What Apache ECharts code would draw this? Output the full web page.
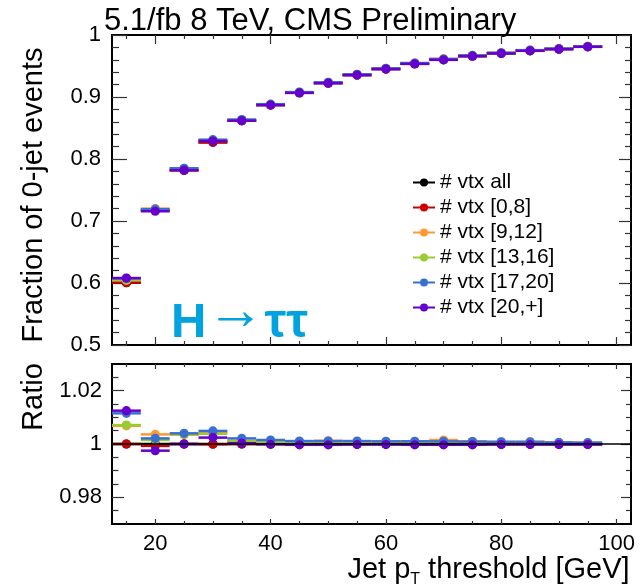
<!DOCTYPE html>
<html>
<head>
<meta charset="utf-8">
<script src="https://cdn.jsdelivr.net/npm/echarts@6/dist/echarts.min.js"></script>
<style>
  html, body { margin: 0; padding: 0; background: #ffffff; }
  #chart { width: 644px; height: 586px; }
</style>
</head>
<body>
<div id="chart"></div>
<script>
// Jet pT thresholds (bin centres, GeV); each bin is 5 GeV wide
const ptThresholds = [15, 20, 25, 30, 35, 40, 45, 50, 55, 60, 65, 70, 75, 80, 85, 90, 95];
const binHalfWidth = 2.5;

const seriesNames = ['# vtx all', '# vtx [0,8]', '# vtx [9,12]', '# vtx [13,16]', '# vtx [17,20]', '# vtx [20,+]'];
const seriesColors = ['#000000', '#cc0000', '#ff9933', '#99cc33', '#3a6fd2', '#6600cc'];

// Fraction of 0-jet events per pile-up category
const fracAll    = [0.6005, 0.7175, 0.7820, 0.8270, 0.8618, 0.8871, 0.9069, 0.9226, 0.9355, 0.9452, 0.9537, 0.9602, 0.9661, 0.9705, 0.9747, 0.9774, 0.9811];
const fracVtx0_8   = [0.6007, 0.7170, 0.7820, 0.8269, 0.8618, 0.8871, 0.9069, 0.9226, 0.9355, 0.9452, 0.9537, 0.9602, 0.9661, 0.9705, 0.9747, 0.9774, 0.9811];
const fracVtx9_12  = [0.6046, 0.7201, 0.7847, 0.8305, 0.8628, 0.8880, 0.9076, 0.9237, 0.9362, 0.9460, 0.9547, 0.9616, 0.9671, 0.9713, 0.9755, 0.9779, 0.9816];
const fracVtx13_16 = [0.6048, 0.7186, 0.7848, 0.8301, 0.8627, 0.8878, 0.9074, 0.9233, 0.9361, 0.9457, 0.9543, 0.9610, 0.9667, 0.9710, 0.9752, 0.9778, 0.9814];
const fracVtx17_20 = [0.6074, 0.7190, 0.7851, 0.8311, 0.8636, 0.8884, 0.9079, 0.9236, 0.9365, 0.9461, 0.9547, 0.9612, 0.9670, 0.9713, 0.9755, 0.9780, 0.9816];
const fracVtx20up  = [0.6080, 0.7157, 0.7820, 0.8290, 0.8618, 0.8870, 0.9066, 0.9223, 0.9353, 0.9450, 0.9534, 0.9599, 0.9658, 0.9703, 0.9745, 0.9772, 0.9809];

// Ratio of each category to the inclusive sample
const ratioAll     = [1, 1, 1, 1, 1, 1, 1, 1, 1, 1, 1, 1, 1, 1, 1, 1, 1];
const ratioVtx0_8   = [1.0000, 0.9993, 1.0000, 0.9999, 1.0000, 1.0000, 1.0000, 1.0000, 1.0000, 1.0000, 1.0000, 1.0000, 1.0000, 1.0000, 1.0000, 1.0000, 1.0000];
const ratioVtx9_12  = [1.0068, 1.0036, 1.0035, 1.0042, 1.0012, 1.0010, 1.0008, 1.0012, 1.0008, 1.0008, 1.0010, 1.0015, 1.0010, 1.0008, 1.0008, 1.0005, 1.0005];
const ratioVtx13_16 = [1.0071, 1.0015, 1.0036, 1.0038, 1.0010, 1.0008, 1.0006, 1.0008, 1.0006, 1.0005, 1.0006, 1.0008, 1.0006, 1.0005, 1.0005, 1.0004, 1.0003];
const ratioVtx17_20 = [1.0115, 1.0021, 1.0040, 1.0049, 1.0021, 1.0015, 1.0011, 1.0011, 1.0011, 1.0010, 1.0010, 1.0010, 1.0009, 1.0008, 1.0008, 1.0006, 1.0005];
const ratioVtx20up  = [1.0125, 0.9975, 1.0000, 1.0024, 1.0003, 0.9999, 0.9997, 0.9997, 0.9998, 0.9998, 0.9997, 0.9997, 0.9997, 0.9998, 0.9998, 0.9998, 0.9998];

const fracSets  = [fracAll, fracVtx0_8, fracVtx9_12, fracVtx13_16, fracVtx17_20, fracVtx20up];
const ratioSets = [ratioAll, ratioVtx0_8, ratioVtx9_12, ratioVtx13_16, ratioVtx17_20, ratioVtx20up];
const ratioReference = 1;

// Axis ticks and labels
const xRange = [12.5, 102.5];
const xMajorTicks = [20, 40, 60, 80, 100];
const xMinorTicks = [15, 25, 30, 35, 45, 50, 55, 65, 70, 75, 85, 90, 95];
const fracRange = [0.5, 1];
const fracStep = 0.1;
const ratioRange = [0.97, 1.03];
const ratioMajorTicks = [0.98, 1, 1.02];
const ratioMinorTicks = [0.975, 0.985, 0.99, 0.995, 1.005, 1.01, 1.015, 1.025];

const FONT = "'Liberation Sans', Arial, Helvetica, sans-serif";
const TICK_COLOR = '#333333';
const FRAME = { color: '#000000', width: 2 };

function xAxisDef(grid, position, values, length, withLabels, extra) {
  return Object.assign({
    type: 'value', gridIndex: grid, position: position,
    min: xRange[0], max: xRange[1],
    axisLine: { show: true, onZero: false, lineStyle: FRAME },
    axisTick: { show: true, inside: true, length: length, customValues: values,
                lineStyle: { color: TICK_COLOR, width: 1.2 } },
    axisLabel: { show: withLabels, customValues: values, margin: 9,
                 color: '#000', fontSize: 22, fontFamily: FONT },
    splitLine: { show: false }
  }, extra || {});
}

function ratioAxisDef(position, values, length, withLabels, extra) {
  return Object.assign({
    type: 'value', gridIndex: 1, position: position,
    min: ratioRange[0], max: ratioRange[1],
    axisLine: { show: true, onZero: false, lineStyle: FRAME },
    axisTick: { show: true, inside: true, length: length, customValues: values,
                lineStyle: { color: TICK_COLOR, width: 1.2 } },
    axisLabel: { show: withLabels, customValues: values, margin: 10,
                 color: '#000', fontSize: 22, fontFamily: FONT },
    splitLine: { show: false }
  }, extra || {});
}

function fracAxisDef(position, tickLen, minorLen, withLabels, extra) {
  return Object.assign({
    type: 'value', gridIndex: 0, position: position,
    min: fracRange[0], max: fracRange[1], interval: fracStep,
    axisLine: { show: true, onZero: false, lineStyle: FRAME },
    axisTick: { show: true, inside: true, length: tickLen,
                lineStyle: { color: TICK_COLOR, width: 1.2 } },
    minorTick: { show: true, splitNumber: 5, length: minorLen,
                 lineStyle: { color: TICK_COLOR, width: 1.2 } },
    axisLabel: { show: withLabels, margin: 11, color: '#000', fontSize: 22, fontFamily: FONT },
    splitLine: { show: false }, minorSplitLine: { show: false }
  }, extra || {});
}

// Horizontal bin bar with a filled marker at the bin centre
function binMarker(params, api) {
  const x = api.value(0), y = api.value(1);
  const c = api.coord([x, y]);
  const l = api.coord([x - binHalfWidth, y]);
  const r = api.coord([x + binHalfWidth, y]);
  const color = api.visual('color');
  return {
    type: 'group',
    children: [
      { type: 'line', shape: { x1: l[0], y1: l[1], x2: r[0], y2: r[1] },
        style: { stroke: color, lineWidth: 2.5 } },
      { type: 'circle', shape: { cx: c[0], cy: c[1], r: 4.6 },
        style: { fill: color } }
    ]
  };
}

// Axis index layout:
// xAxis 0-3 -> upper panel (bottom major/minor, top major/minor), 4-7 -> ratio panel
// yAxis 0-1 -> upper panel (left, right), 2-5 -> ratio panel (left major/minor, right major/minor)
const series = [];
seriesNames.forEach((name, i) => {
  series.push({
    type: 'custom', name: name, xAxisIndex: 0, yAxisIndex: 0,
    itemStyle: { color: seriesColors[i] },
    renderItem: binMarker,
    data: ptThresholds.map((pt, k) => [pt, fracSets[i][k]])
  });
});
seriesNames.forEach((name, i) => {
  series.push({
    type: 'custom', name: name, xAxisIndex: 4, yAxisIndex: 2,
    itemStyle: { color: seriesColors[i] },
    renderItem: binMarker,
    data: ptThresholds.map((pt, k) => [pt, ratioSets[i][k]])
  });
});
series.push({
  type: 'line', xAxisIndex: 4, yAxisIndex: 2, z: 5, silent: true,
  symbol: 'none', lineStyle: { color: '#000', width: 1.5 },
  data: [[xRange[0], ratioReference], [xRange[1], ratioReference]]
});

const legendIcon = 'path://M0,3.5H7.3V5.5H0Z M14.7,3.5H22V5.5H14.7Z M15,4.5A4,4,0,1,1,7,4.5A4,4,0,1,1,15,4.5Z';

const option = {
  backgroundColor: '#ffffff',
  animation: false,
  title: {
    text: '5.1/fb 8 TeV, CMS Preliminary',
    left: 99, top: 1,
    textStyle: { fontSize: 31, fontWeight: 'normal', color: '#000', fontFamily: FONT }
  },
  legend: {
    orient: 'vertical', left: 408, top: 165,
    itemWidth: 22, itemHeight: 8, itemGap: 0,
    selectedMode: false,
    textStyle: { fontSize: 21, color: '#000', fontFamily: FONT, lineHeight: 25 },
    data: seriesNames.map((n, i) => ({ name: n, icon: legendIcon, itemStyle: { color: seriesColors[i] } }))
  },
  grid: [
    { left: 112, right: 13, top: 35, height: 310, outerBoundsMode: 'none' },
    { left: 112, right: 13, top: 364, height: 160, outerBoundsMode: 'none' }
  ],
  xAxis: [
    xAxisDef(0, 'bottom', xMajorTicks, 8, false),
    xAxisDef(0, 'bottom', xMinorTicks, 4, false),
    xAxisDef(0, 'top', xMajorTicks, 9, false),
    xAxisDef(0, 'top', xMinorTicks, 4, false),
    xAxisDef(1, 'bottom', xMajorTicks, 5, true, {
      name: 'Jet p{sub|T} threshold [GeV]', nameLocation: 'middle', nameGap: 26,
      nameTextStyle: {
        fontSize: 29, color: '#000', fontFamily: FONT, padding: [0, 0, 0, 234],
        rich: { sub: { fontSize: 16, fontFamily: FONT, color: '#000', padding: [18, 0, 0, 0] } }
      }
    }),
    xAxisDef(1, 'bottom', xMinorTicks, 3, false),
    xAxisDef(1, 'top', xMajorTicks, 5, false),
    xAxisDef(1, 'top', xMinorTicks, 3, false)
  ],
  yAxis: [
    fracAxisDef('left', 15, 7, true, {
      name: 'Fraction of 0-jet events', nameLocation: 'middle', nameGap: 64,
      nameTextStyle: { fontSize: 29, color: '#000', fontFamily: FONT, padding: [0, 10, 0, 0] }
    }),
    fracAxisDef('right', 12, 6, false),
    ratioAxisDef('left', ratioMajorTicks, 12, true, {
      name: 'Ratio', nameLocation: 'middle', nameGap: 64,
      nameTextStyle: { fontSize: 29, color: '#000', fontFamily: FONT, padding: [0, 0, 0, 94] }
    }),
    ratioAxisDef('left', ratioMinorTicks, 6.5, false),
    ratioAxisDef('right', ratioMajorTicks, 10, false),
    ratioAxisDef('right', ratioMinorTicks, 5, false)
  ],
  graphic: [
    {
      type: 'text', left: 171, top: 284, silent: true,
      style: {
        text: '{b|H}{a|\u2192}{b|\u03c4\u03c4}',
        rich: {
          b: { fontSize: 49, fontWeight: 'bold', fontFamily: FONT, fill: '#00a3dd' },
          a: { fontSize: 58, fontWeight: 'normal', fontFamily: FONT, fill: '#00a3dd', padding: [0, 0, 20, 0] }
        }
      }
    }
  ],
  series: series
};

const chart = echarts.init(document.getElementById('chart'), null, { renderer: 'canvas' });
chart.setOption(option);
</script>
</body>
</html>
